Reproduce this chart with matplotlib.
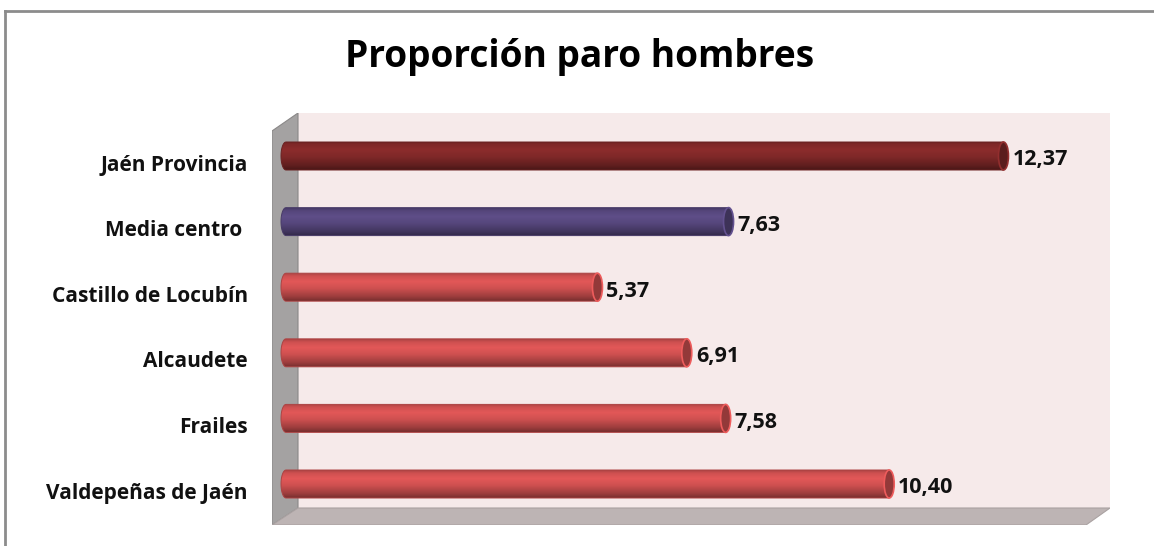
import numpy as np
import matplotlib
matplotlib.use('Agg')
import matplotlib.pyplot as plt
from matplotlib.patches import Polygon, Ellipse, PathPatch
from matplotlib.path import Path
from matplotlib.lines import Line2D
from matplotlib.colors import to_rgb

plt.rcParams['font.family'] = ['Open Sans', 'DejaVu Sans']

# datos (de abajo hacia arriba)
categorias = ['Valdepeñas de Jaén', 'Frailes', 'Alcaudete', 'Castillo de Locubín',
              'Media centro ', 'Jaén Provincia']
valores = [10.40, 7.58, 6.91, 5.37, 7.63, 12.37]
etiquetas = ['10,40', '7,58', '6,91', '5,37', '7,63', '12,37']
colores = ['#d85454', '#d85454', '#d85454', '#d85454', '#5a4a82', '#852a2a']

W, H = 1154, 546
fig = plt.figure(figsize=(W / 100, H / 100), dpi=100)

# caja 3d en pixeles: x 272..1110, y 113..525
ax_l, ax_r, ax_t, ax_b = 272, 1110, 113, 525
ax = fig.add_axes([ax_l / W, 1 - ax_b / H, (ax_r - ax_l) / W, (ax_b - ax_t) / H])
ppu = 58.0     # pixeles por unidad
x0 = 286       # pixel del cero
paso = 65.6    # pixeles entre barras
y0 = 484       # pixel de la primera barra
ax.set_xlim((ax_l - x0) / ppu, (ax_r - x0) / ppu)
ax.set_ylim((y0 - ax_b) / paso, (y0 - ax_t) / paso)
ax.axis('off')


def pxa(px, py):
    # pixel -> fraccion de ejes
    return ((px - ax_l) / (ax_r - ax_l), (ax_b - py) / (ax_b - ax_t))


# paredes
fondo = Polygon([pxa(298, 113), pxa(1110, 113), pxa(1110, 508), pxa(298, 508)],
                closed=True, transform=ax.transAxes, facecolor='#f6eaea',
                edgecolor='none', zorder=0)
izq = Polygon([pxa(272, 131), pxa(298, 113), pxa(298, 508), pxa(272, 525)],
              closed=True, transform=ax.transAxes, facecolor='#a4a2a2',
              edgecolor='#8a8888', lw=0.8, zorder=0)
suelo = Polygon([pxa(298, 508), pxa(1110, 508), pxa(1086, 525), pxa(272, 525)],
                closed=True, transform=ax.transAxes, facecolor='#bdb4b4',
                edgecolor='#aaa2a2', lw=0.8, zorder=0)
for p in (fondo, izq, suelo):
    ax.add_patch(p)

e = 5 / ppu
h = 28 / paso


def degradado(col):
    c = np.array(to_rgb(col))
    t = np.linspace(0, 1, 64)   # 0 abajo, 1 arriba
    luz = np.interp(t, [0, 0.15, 0.45, 0.7, 0.9, 1.0], [0.55, 0.72, 0.95, 1.05, 0.95, 0.8])
    g = np.clip(c[None, :] * luz[:, None], 0, 1)
    return g[:, None, :]


for i, (v, col, lab) in enumerate(zip(valores, colores, etiquetas)):
    yb, yt = i - h / 2, i + h / 2
    ang = np.linspace(-np.pi / 2, np.pi / 2, 30)
    pts = [(0, yt), (v, yt), (v, yb), (0, yb)]
    pts += [(-e * np.cos(a), i + (h / 2) * np.sin(a)) for a in ang]
    forma = PathPatch(Path(pts + [pts[0]]), facecolor='none', edgecolor='none')
    ax.add_patch(forma)
    im = ax.imshow(degradado(col), extent=(-e, v, yb, yt), origin='lower',
                   aspect='auto', interpolation='bilinear', zorder=2)
    im.set_clip_path(forma)
    borde = PathPatch(Path(pts + [pts[0]]), facecolor='none',
                      edgecolor=np.array(to_rgb(col)) * 0.8, lw=0.7, zorder=3)
    ax.add_patch(borde)
    tapa = Ellipse((v, i), 2 * e, h, facecolor=np.array(to_rgb(col)) * 0.68,
                   edgecolor=np.clip(np.array(to_rgb(col)) * 1.1, 0, 1), lw=1.2, zorder=4)
    ax.add_patch(tapa)
    ax.text(v + e + 4 / ppu, i - 4 / paso, lab, ha='left', va='center', fontsize=15.5,
            fontweight='bold', color='#111111', zorder=5)
    ax.text((ax_l - x0 - 24) / ppu, i - 9 / paso, categorias[i], ha='right', va='center',
            fontsize=15, fontweight='bold', color='#111111')

fig.text(580 / W, 1 - 57 / H, 'Proporción paro hombres', ha='center', va='center',
         fontsize=26.7, fontweight='bold', color='black')

# marco
fig.add_artist(Line2D([5 / W, 1], [1 - 11 / H] * 2, color='#8c8c8c', lw=2))
fig.add_artist(Line2D([5 / W] * 2, [0, 1 - 11 / H], color='#8c8c8c', lw=2))

fig.savefig('out.png', dpi=100)
